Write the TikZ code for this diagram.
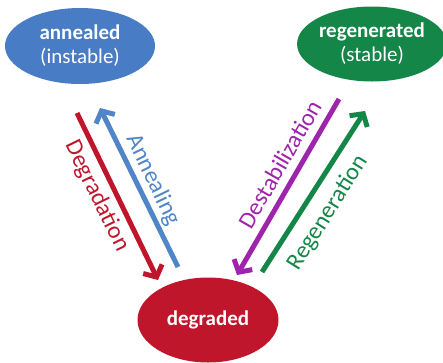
\documentclass[tikz,border=0pt]{standalone}
\usepackage{fontspec}
\setmainfont{Carlito}
\usetikzlibrary{arrows.meta,shapes.geometric}
\definecolor{annblue}{RGB}{72,124,196}
\definecolor{arrblue}{RGB}{80,134,200}
\definecolor{degred}{RGB}{192,22,44}
\definecolor{regreen}{RGB}{20,134,72}
\definecolor{destpurple}{RGB}{158,36,172}
\tikzset{
  state/.style={ellipse, text=white, align=center,
    font=\fontsize{21}{24}\selectfont, inner sep=0pt},
  flow/.style={line width=5pt, -{Straight Barb[length=9pt,width=21pt]}},
  flowlabel/.style={font=\fontsize{24}{26}\selectfont, inner sep=0pt}
}
\begin{document}
\begin{tikzpicture}[x=1pt,y=-1pt]
  \useasboundingbox (0,0) rectangle (443,362);
  % states
  \node[state, fill=annblue, minimum width=150pt, minimum height=76pt] (annealed) at (80,46) {\textbf{annealed}\\(instable)};
  \node[state, fill=regreen, minimum width=133pt, minimum height=75pt] (regenerated) at (372,44) {\textbf{regenerated}\\(stable)};
  \node[state, fill=degred, minimum width=141pt, minimum height=85pt] (degraded) at (208,320) {\textbf{degraded}};
  % arrow ends
  \coordinate (degtail) at (77,113);
  \coordinate (deghead) at (158,280);
  \coordinate (anntail) at (178,267);
  \coordinate (annhead) at (100,108);
  \coordinate (desttail) at (339,99);
  \coordinate (desthead) at (237,275);
  \coordinate (regtail) at (262,272);
  \coordinate (reghead) at (365,111);
  % transitions
  \draw[flow, degred] (degtail) -- (deghead);
  \draw[flow, arrblue] (anntail) -- (annhead);
  \draw[flow, destpurple] (desttail) -- (desthead);
  \draw[flow, regreen] (regtail) -- (reghead);
  \node[flowlabel, text=degred, rotate=-64] (degl) at (97,196) {Degradation};
  \node[flowlabel, text=arrblue, rotate=-64] (annl) at (153,180) {Annealing};
  \node[flowlabel, text=destpurple, rotate=60] (destl) at (280,164) {Destabilization};
  \node[flowlabel, text=regreen, rotate=58] (regl) at (328,213) {Regeneration};
\end{tikzpicture}
\end{document}
